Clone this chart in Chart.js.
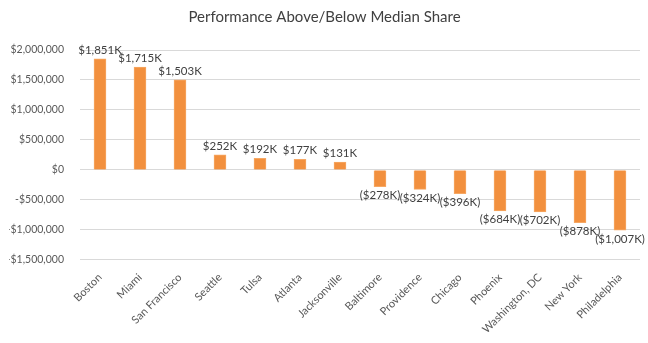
<!DOCTYPE html>
<html>
<head>
<meta charset="utf-8">
<script src="https://cdn.jsdelivr.net/npm/chart.js@4/dist/chart.umd.min.js"></script>
<style>
  html, body { margin: 0; padding: 0; background: #fff; }
  #wrap { width: 648px; height: 343px; }
</style>
</head>
<body>
<div id="wrap"><canvas id="perfChart" width="648" height="343"></canvas></div>
<script>
const cities = ["Boston", "Miami", "San Francisco", "Seattle", "Tulsa", "Atlanta", "Jacksonville",
  "Baltimore", "Providence", "Chicago", "Phoenix", "Washington, DC", "New York", "Philadelphia"];
const shareDiff = [1851000, 1715000, 1503000, 252000, 192000, 177000, 131000,
  -278000, -324000, -396000, -684000, -702000, -878000, -1007000];
const yTicks = [2000000, 1500000, 1000000, 500000, 0, -500000, -1000000, -1500000];

const fontFam = "Lato, 'Open Sans', sans-serif";

function money(v) {
  const s = "$" + Math.abs(v).toLocaleString("en-US");
  return v < 0 ? "-" + s : s;
}
function kLabel(v) {
  const s = "$" + Math.round(Math.abs(v) / 1000).toLocaleString("en-US") + "K";
  return v < 0 ? "(" + s + ")" : s;
}

// value labels above the positive bars, below the negative ones
const valueLabels = {
  id: "valueLabels",
  afterDatasetsDraw(chart) {
    const ctx = chart.ctx;
    const meta = chart.getDatasetMeta(0);
    ctx.save();
    ctx.font = "11.5px " + fontFam;
    ctx.fillStyle = "#404040";
    ctx.textAlign = "center";
    meta.data.forEach((bar, i) => {
      const v = shareDiff[i];
      if (v >= 0) {
        ctx.textBaseline = "bottom";
        ctx.fillText(kLabel(v), bar.x, bar.y - 3);
      } else {
        ctx.textBaseline = "top";
        ctx.fillText(kLabel(v), bar.x, bar.y + 3);
      }
    });
    ctx.restore();
  }
};

new Chart(document.getElementById("perfChart"), {
  type: "bar",
  data: {
    labels: cities,
    datasets: [{
      data: shareDiff,
      backgroundColor: "#F2903E",
      borderColor: "#F6A865",
      borderWidth: 1,
      barThickness: 12
    }]
  },
  options: {
    responsive: false,
    animation: false,
    layout: { padding: { left: 9, right: 8, top: 0, bottom: 4 } },
    plugins: {
      legend: { display: false },
      tooltip: { enabled: false },
      title: {
        display: true,
        text: "Performance Above/Below Median Share",
        color: "#404040",
        font: { family: fontFam, size: 15, weight: "normal" },
        padding: { top: 8, bottom: 24 }
      }
    },
    scales: {
      x: {
        grid: { display: false },
        border: { display: false },
        // rotated first label should not push the plot to the right
        afterFit: axis => { axis.paddingLeft = 0; axis.paddingRight = 0; },
        ticks: {
          color: "#595959",
          font: { family: fontFam, size: 11 },
          minRotation: 45,
          maxRotation: 45,
          autoSkip: false
        }
      },
      y: {
        min: -1500000,
        max: 2000000,
        afterBuildTicks: axis => { axis.ticks = yTicks.map(v => ({ value: v })); },
        afterFit: axis => { axis.width = 71; },
        grid: { color: "#D9D9D9", lineWidth: 1, drawTicks: false },
        border: { display: false },
        ticks: {
          color: "#595959",
          font: { family: fontFam, size: 10.5 },
          padding: 16,
          callback: v => money(v)
        }
      }
    }
  },
  plugins: [valueLabels]
});
</script>
</body>
</html>
